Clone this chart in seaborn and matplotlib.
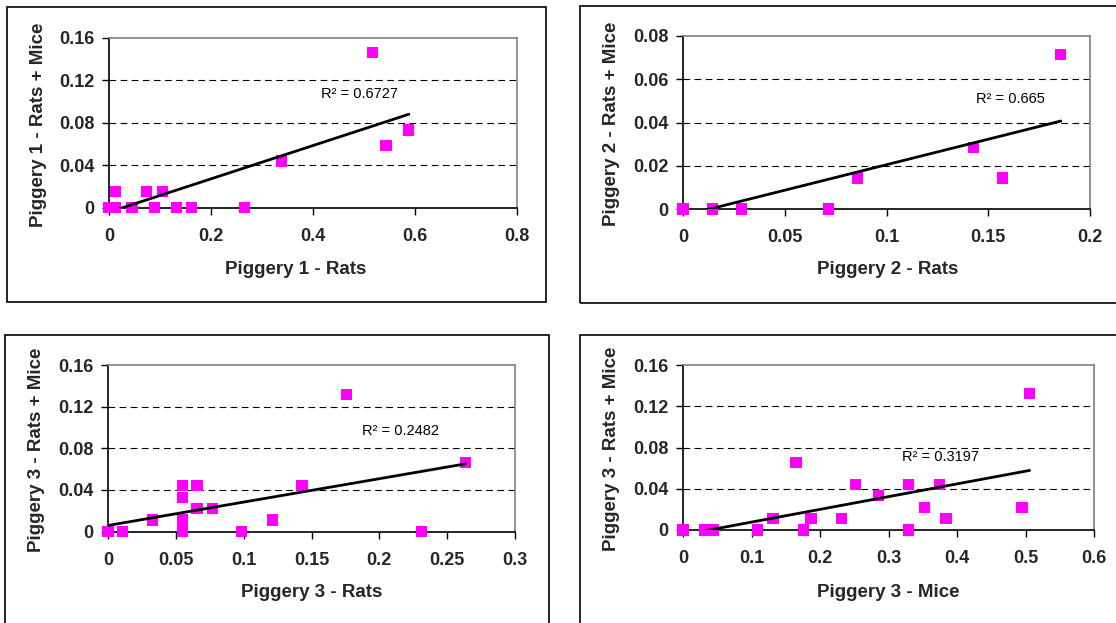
import numpy as np
import pandas as pd
import matplotlib
matplotlib.use("Agg")
import matplotlib.pyplot as plt
import seaborn as sns
from matplotlib.patches import Rectangle

sns.set_theme(style="white")
plt.rcParams['font.family'] = ['Liberation Sans', 'DejaVu Sans']

# Piggery 1 - Rats vs Rats + Mice
p1_x = [0, 0.013, 0.013, 0.045, 0.074, 0.089, 0.105, 0.133, 0.162, 0.265, 0.339, 0.516, 0.543, 0.588]
p1_y = [0, 0, 0.0155, 0, 0.0155, 0, 0.0155, 0, 0, 0, 0.044, 0.1465, 0.0585, 0.0733]

# Piggery 2 - Rats vs Rats + Mice
p2_x = [0, 0.0143, 0.0286, 0.0714, 0.0857, 0.1429, 0.1571, 0.1857]
p2_y = [0, 0, 0, 0, 0.0143, 0.0286, 0.0143, 0.0714]

# Piggery 3 - Rats vs Rats + Mice
p3_x = [0, 0.0105, 0.033, 0.055, 0.055, 0.055, 0.055, 0.0656, 0.0656, 0.077,
        0.0985, 0.121, 0.143, 0.1757, 0.231, 0.2636]
p3_y = [0, 0, 0.011, 0, 0.011, 0.033, 0.044, 0.044, 0.022, 0.022,
        0, 0.011, 0.044, 0.132, 0, 0.066]

# Piggery 3 - Mice vs Rats + Mice
p4_x = [0, 0.032, 0.038, 0.0445, 0.109, 0.1315, 0.165, 0.176, 0.187, 0.231,
        0.2516, 0.285, 0.329, 0.329, 0.352, 0.374, 0.384, 0.495, 0.506]
p4_y = [0, 0, 0, 0, 0, 0.011, 0.0653, 0, 0.011, 0.011,
        0.0443, 0.0336, 0.0443, 0, 0.022, 0.0443, 0.011, 0.022, 0.132]

# trendlines (slope, intercept) and R² labels as shown
slopes = [0.157, 0.2358, 0.2247, 0.1235]
intercepts = [-0.0042, -0.0031, 0.0058, -0.0047]
r2_labels = ["R² = 0.6727", "R² = 0.665", "R² = 0.2482", "R² = 0.3197"]
r2_pos = [(0.415, 0.1075), (0.144, 0.0507), (0.187, 0.097), (0.319, 0.0705)]

x_labels = ["Piggery 1 - Rats", "Piggery 2 - Rats", "Piggery 3 - Rats", "Piggery 3 - Mice"]
y_labels = ["Piggery 1 - Rats + Mice", "Piggery 2 - Rats + Mice",
            "Piggery 3 - Rats + Mice", "Piggery 3 - Rats + Mice"]

x_ticks = [[0, 0.2, 0.4, 0.6, 0.8],
           [0, 0.05, 0.1, 0.15, 0.2],
           [0, 0.05, 0.1, 0.15, 0.2, 0.25, 0.3],
           [0, 0.1, 0.2, 0.3, 0.4, 0.5, 0.6]]
x_ticklabels = [["0", "0.2", "0.4", "0.6", "0.8"],
                ["0", "0.05", "0.1", "0.15", "0.2"],
                ["0", "0.05", "0.1", "0.15", "0.2", "0.25", "0.3"],
                ["0", "0.1", "0.2", "0.3", "0.4", "0.5", "0.6"]]
y_ticks = [[0, 0.04, 0.08, 0.12, 0.16],
           [0, 0.02, 0.04, 0.06, 0.08],
           [0, 0.04, 0.08, 0.12, 0.16],
           [0, 0.04, 0.08, 0.12, 0.16]]
y_ticklabels = [["0", "0.04", "0.08", "0.12", "0.16"],
                ["0", "0.02", "0.04", "0.06", "0.08"],
                ["0", "0.04", "0.08", "0.12", "0.16"],
                ["0", "0.04", "0.08", "0.12", "0.16"]]

xs = [p1_x, p2_x, p3_x, p4_x]
ys = [p1_y, p2_y, p3_y, p4_y]

W, H = 1116, 623
fig = plt.figure(figsize=(W / 100, H / 100), dpi=100)
fig.patch.set_facecolor('white')

# axes rectangles in pixels: left, right, top, bottom
ax_px = [(109, 517, 38, 207.7), (683, 1090, 36, 209),
         (108, 515, 365, 531.5), (683, 1094, 365, 530)]
# chart-area boxes in pixels: left, right, top, bottom
box_px = [(7, 546, 7, 301.5), (580, 1125, 6, 303),
          (5, 548.5, 335, 630), (580, 1125, 335, 630)]
xlab_pos = [(0.458, -0.314), (0.503, -0.30), (0.501, -0.316), (0.499, -0.327)]
ylab_pos = [(-0.153, 0.49), (-0.156, 0.49), (-0.1545, 0.49), (-0.154, 0.493)]

for (l, r, t, b) in box_px:
    fig.add_artist(Rectangle((l / W, 1 - b / H), (r - l) / W, (b - t) / H,
                             transform=fig.transFigure, fill=False,
                             edgecolor='black', linewidth=1.2, clip_on=False))

for i in range(4):
    l, r, t, b = ax_px[i]
    ax = fig.add_axes([l / W, 1 - b / H, (r - l) / W, (b - t) / H])
    df = pd.DataFrame({'x': xs[i], 'y': ys[i]})

    # dashed gridlines
    for yt in y_ticks[i][1:-1]:
        ax.axhline(yt, color='black', linewidth=0.8, dashes=(6, 4), zorder=0)

    sns.scatterplot(data=df, x='x', y='y', ax=ax, marker='s', s=65,
                    color='#FF00FF', edgecolor='none', zorder=3, clip_on=False)

    x0, x1 = min(xs[i]), max(xs[i])
    line_df = pd.DataFrame({'x': [x0, x1],
                            'y': [slopes[i] * x0 + intercepts[i], slopes[i] * x1 + intercepts[i]]})
    sns.lineplot(data=line_df, x='x', y='y', ax=ax, color='black', linewidth=2, zorder=4)

    ax.text(r2_pos[i][0], r2_pos[i][1], r2_labels[i], fontsize=10.5,
            va='center', ha='left', color='black')

    ax.set_xlim(x_ticks[i][0], x_ticks[i][-1])
    ax.set_ylim(y_ticks[i][0], y_ticks[i][-1])
    ax.set_xticks(x_ticks[i])
    ax.set_xticklabels(x_ticklabels[i], fontsize=13, fontweight='bold')
    ax.set_yticks(y_ticks[i])
    ax.set_yticklabels(y_ticklabels[i], fontsize=13, fontweight='bold')
    ax.tick_params(axis='x', direction='out', length=5, width=1, color='black', pad=9.5, bottom=True)
    ax.tick_params(axis='y', direction='out', length=5, width=1, color='black', pad=5.5, left=True)

    ax.set_xlabel(x_labels[i], fontsize=13.5, fontweight='bold')
    ax.set_ylabel(y_labels[i], fontsize=13.5, fontweight='bold')
    ax.xaxis.set_label_coords(*xlab_pos[i])
    ax.xaxis.label.set_va('top')
    ax.yaxis.set_label_coords(*ylab_pos[i])

    for side in ['left', 'bottom']:
        ax.spines[side].set_color('black')
        ax.spines[side].set_linewidth(1.2)
    for side in ['top', 'right']:
        ax.spines[side].set_color('#808080')
        ax.spines[side].set_linewidth(1.2)
    ax.set_facecolor('white')

fig.savefig('out.png', dpi=100, facecolor='white')
